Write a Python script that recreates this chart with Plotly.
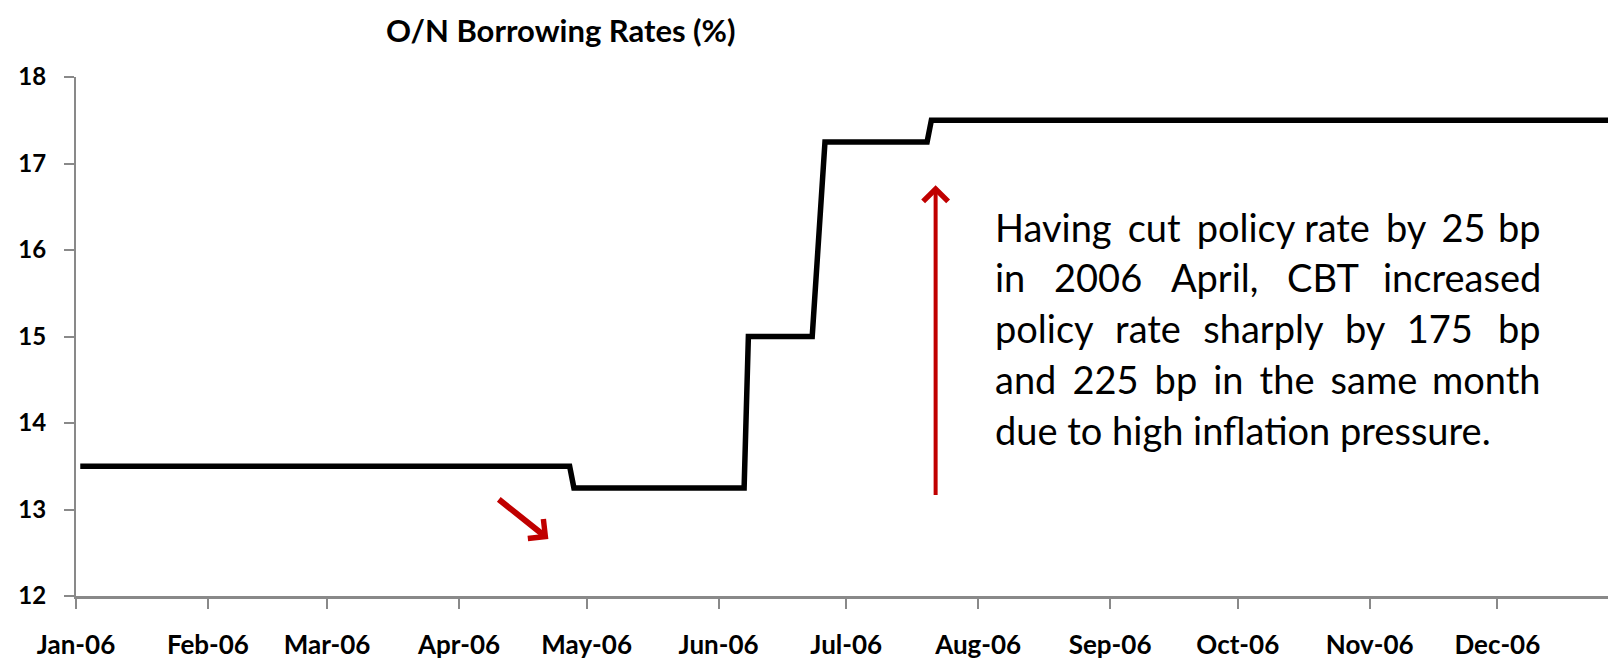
import plotly.graph_objects as go

# ---- data ----
dates = ["2006-01-02", "2006-04-27", "2006-04-28", "2006-06-07", "2006-06-08",
         "2006-06-23", "2006-06-26", "2006-07-20", "2006-07-21", "2006-12-29"]
rates = [13.5, 13.5, 13.25, 13.25, 15.0, 15.0, 17.25, 17.25, 17.5, 17.5]

y_ticks = [12, 13, 14, 15, 16, 17, 18]
x_tick_dates = ["2006-01-01", "2006-02-01", "2006-03-01", "2006-04-01", "2006-05-01",
                "2006-06-01", "2006-07-01", "2006-08-01", "2006-09-01", "2006-10-01",
                "2006-11-01", "2006-12-01"]
x_tick_labels = ["Jan-06", "Feb-06", "Mar-06", "Apr-06", "May-06", "Jun-06",
                 "Jul-06", "Aug-06", "Sep-06", "Oct-06", "Nov-06", "Dec-06"]

title_text = "O/N Borrowing Rates (%)"
note_lines = ["Having cut policy rate by 25 bp",
              "in 2006 April, CBT increased",
              "policy rate sharply by 175 bp",
              "and 225 bp in the same month",
              "due to high inflation pressure."]
# extra six-per-em spaces per inner gap (to imitate justified text)
note_pads = [[1, 1, 0, 1, 1],
             [3, 3, 3],
             [2, 2, 2, 2],
             [1, 1, 1, 1, 1],
             None]

# arrows (tip, tail) in data coordinates
up_arrow = {"x": "2006-07-22", "y": 16.75, "ax": "2006-07-22", "ay": 13.15}
down_arrow = {"x": "2006-04-22", "y": 12.66, "ax": "2006-04-10", "ay": 13.13}

FONT = "Lato"
W, H = 1608, 660
ML, MR, MT, MB = 76, 0, 77, 62
plot_w = W - ML - MR
plot_h = H - MT - MB
PAD = "\u2006"

fig = go.Figure()
fig.add_trace(go.Scatter(x=dates, y=rates, mode="lines",
                         line=dict(color="black", width=5.5),
                         hoverinfo="skip", showlegend=False, cliponaxis=True))

annotations = []
annotations.append(dict(text=title_text, xref="paper", yref="paper",
                        x=(561 - ML) / plot_w, y=1 + (MT - 30) / plot_h,
                        xanchor="center", yanchor="middle", showarrow=False,
                        font=dict(family=FONT, size=31, color="black", weight="bold")))

NOTE_L, NOTE_R = 993, 1543
note_y = [228, 278, 329, 380, 431]
note_font = dict(family=FONT, size=38, color="black")
for line, pads, yy in zip(note_lines, note_pads, note_y):
    ypos = (H - MB - yy) / plot_h
    if pads is None:
        annotations.append(dict(text=line, xref="paper", yref="paper",
                                x=(NOTE_L - ML) / plot_w, y=ypos,
                                xanchor="left", yanchor="middle", showarrow=False,
                                font=note_font))
        continue
    words = line.split(" ")
    head = words[0]
    for w, p in zip(words[1:-1], pads):
        head += " " + PAD * p + w
    annotations.append(dict(text=head, xref="paper", yref="paper",
                            x=(NOTE_L - ML) / plot_w, y=ypos,
                            xanchor="left", yanchor="middle", showarrow=False,
                            font=note_font))
    annotations.append(dict(text=words[-1], xref="paper", yref="paper",
                            x=(NOTE_R - ML) / plot_w, y=ypos,
                            xanchor="right", yanchor="middle", showarrow=False,
                            font=note_font))

annotations.append(dict(x=up_arrow["x"], y=up_arrow["y"], ax=up_arrow["ax"], ay=up_arrow["ay"],
                        xref="x", yref="y", axref="x", ayref="y", text="",
                        showarrow=True, arrowhead=4, arrowsize=1.2, arrowwidth=4,
                        arrowcolor="#C00000"))
annotations.append(dict(x=down_arrow["x"], y=down_arrow["y"], ax=down_arrow["ax"], ay=down_arrow["ay"],
                        xref="x", yref="y", axref="x", ayref="y", text="",
                        showarrow=True, arrowhead=4, arrowsize=0.8, arrowwidth=6,
                        arrowcolor="#C00000"))

fig.update_layout(
    width=W, height=H,
    margin=dict(l=ML, r=MR, t=MT, b=MB, pad=0),
    plot_bgcolor="white", paper_bgcolor="white",
    annotations=annotations,
    showlegend=False,
)
fig.update_xaxes(type="date", range=["2006-01-01", "2006-12-27"],
                 tickvals=x_tick_dates, ticktext=x_tick_labels,
                 ticks="outside", ticklen=10, tickwidth=2, tickcolor="#898989",
                 showline=True, linecolor="#898989", linewidth=3,
                 showgrid=False, zeroline=False, ticklabelstandoff=14,
                 tickfont=dict(family=FONT, size=26, color="black", weight="bold"))
fig.update_yaxes(range=[12, 18], tickvals=y_ticks,
                 ticks="outside", ticklen=10, tickwidth=2, tickcolor="#898989",
                 showline=True, linecolor="#898989", linewidth=2,
                 showgrid=False, zeroline=False, ticklabelstandoff=13,
                 tickfont=dict(family=FONT, size=24, color="black", weight="bold"))

fig.write_html("out.html", config={"displayModeBar": False},
               post_script="document.body.style.margin='0';document.body.style.overflow='hidden';")
